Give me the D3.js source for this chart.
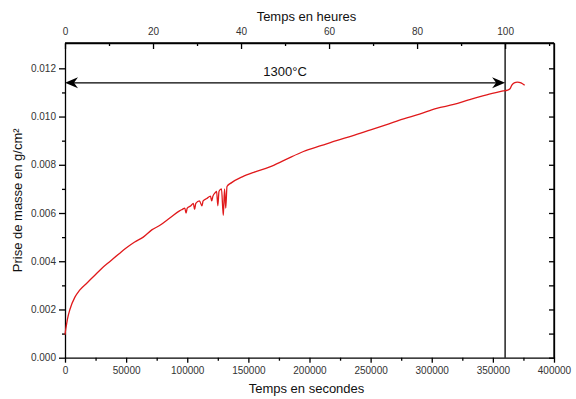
<!DOCTYPE html>
<html><head><meta charset="utf-8">
<script src="https://cdn.jsdelivr.net/npm/d3@7"></script>
<style>
body{margin:0;background:#fff;}
svg{display:block;font-family:"Liberation Sans",Arial,sans-serif;}
.axis text{font-size:10px;fill:#333;}
.axis path,.axis line{stroke:#000;stroke-width:1.3;}
</style></head>
<body><svg id="c" width="576" height="399"></svg>
<script>
// Data: time in seconds, mass gain in g/cm²
const seconds = [0,500,1000,2000,4000,8000,12000,18000,24000,30000,37000,44000,50000,57000,64000,71000,78000,86000,94000,
  96000,98000,99000,100000,103000,105000,106000,107000,110000,112000,113000,116000,119000,120000,121000,123000,124000,
  125000,126000,128000,129500,130500,131500,132500,136000,145000,155000,167000,180000,195000,210000,222000,235000,
  250000,265000,277000,290000,304000,318000,331000,345000,358500,362000,364000,365500,367500,370000,373000,376000];
const massGain = [0.00095,0.00115,0.0013,0.0016,0.0020,0.0025,0.0028,0.0031,0.0034,0.0037,0.0040,0.0043,0.00455,0.0048,0.0050,0.0053,0.0055,0.0058,0.0061,
  0.00615,0.0062,0.0060,0.0062,0.0063,0.0064,0.00615,0.0064,0.0065,0.0063,0.0065,0.0066,0.0067,0.0065,0.0067,0.00685,0.0069,
  0.0063,0.0069,0.0070,0.0059,0.0070,0.0062,0.0071,0.00725,0.0075,0.0077,0.0079,0.0082,0.00855,0.0088,0.0090,0.0092,
  0.00945,0.0097,0.0099,0.0101,0.01034,0.0105,0.0107,0.0109,0.01106,0.0111,0.01115,0.0113,0.0114,0.01143,0.0114,0.0113];
const xTicks = [0,50000,100000,150000,200000,250000,300000,350000,400000];
const xMinor = [25000,75000,125000,175000,225000,275000,325000,375000];
const hourTicks = [0,20,40,60,80,100];
const hourMinor = [10,30,50,70,90,110];
const yTicks = [0,0.002,0.004,0.006,0.008,0.010,0.012];
const yMinor = [0.001,0.003,0.005,0.007,0.009,0.011];
const plateauEnd = 360000;     // end of 1300°C plateau (s)
const arrowLevel = 0.0114;     // level of the double arrow
const plateauLabel = "1300°C";

const svg = d3.select("#c");
const m = {l:65, r:22, t:43, b:41.3};
const W = 576 - m.l - m.r, H = 399 - m.t - m.b;
const g = svg.append("g").attr("transform",`translate(${m.l},${m.t})`);

const x = d3.scaleLinear().domain([0,400000]).range([0,W]);
const xh = d3.scaleLinear().domain([0,400000/3600]).range([0,W]);
const y = d3.scaleLinear().domain([0,0.01305]).range([H,0]);

// Bottom axis
g.append("g").attr("class","axis").attr("transform",`translate(0,${H})`)
  .call(d3.axisBottom(x).tickValues(xTicks).tickFormat(d3.format("d")).tickSize(5).tickSizeOuter(0).tickPadding(4));
g.append("g").attr("class","axis").attr("transform",`translate(0,${H})`)
  .call(d3.axisBottom(x).tickValues(xMinor).tickFormat("").tickSize(3).tickSizeOuter(0))
  .select(".domain").remove();
// Top axis (hours), ticks inward
g.append("g").attr("class","axis")
  .call(d3.axisTop(xh).tickValues(hourTicks).tickSize(-6).tickSizeOuter(0).tickPadding(8));
g.append("g").attr("class","axis")
  .call(d3.axisTop(xh).tickValues(hourMinor).tickFormat("").tickSize(-3).tickSizeOuter(0))
  .select(".domain").remove();
// Left axis
g.append("g").attr("class","axis")
  .call(d3.axisLeft(y).tickValues(yTicks).tickFormat(d3.format(".3f")).tickSize(6).tickSizeOuter(0).tickPadding(3));
g.append("g").attr("class","axis")
  .call(d3.axisLeft(y).tickValues(yMinor).tickFormat("").tickSize(3).tickSizeOuter(0))
  .select(".domain").remove();
// Right axis, ticks inward, no labels
g.append("g").attr("class","axis").attr("transform",`translate(${W},0)`)
  .call(d3.axisLeft(y).tickValues(yTicks.concat(yMinor)).tickFormat("").tickSize(5).tickSizeOuter(0));
// close top/right domain lines
g.append("line").attr("x1",0).attr("x2",W).attr("y1",0).attr("y2",0).attr("stroke","#000").attr("stroke-width",1.3);
g.append("line").attr("x1",W).attr("x2",W).attr("y1",0).attr("y2",H).attr("stroke","#000").attr("stroke-width",1.3);

// Vertical line at end of plateau
g.append("line").attr("x1",x(plateauEnd)).attr("x2",x(plateauEnd)).attr("y1",0).attr("y2",H)
  .attr("stroke","#000").attr("stroke-width",1.3);

// Double arrow
const ay = y(arrowLevel), ax0 = x(0), ax1 = x(plateauEnd);
g.append("line").attr("x1",ax0+6).attr("x2",ax1-6).attr("y1",ay).attr("y2",ay).attr("stroke","#000").attr("stroke-width",1.3);
function head(tx, dir){
  const L=13, hw=5.5, n=4;
  const p = [[tx,ay],[tx+dir*L,ay-hw],[tx+dir*(L-n),ay],[tx+dir*L,ay+hw]];
  g.append("path").attr("d","M"+p.map(d=>d.join(",")).join("L")+"Z").attr("fill","#000");
}
head(ax0,1); head(ax1,-1);
g.append("text").attr("x",(ax0+ax1)/2).attr("y",ay-7).attr("text-anchor","middle")
  .attr("font-size",13).attr("fill","#111").text(plateauLabel);

// Curve
const pts = seconds.map((s,i)=>[s,massGain[i]]);
g.append("path").datum(pts)
  .attr("d",d3.line().curve(d3.curveMonotoneX).x(d=>x(d[0])).y(d=>y(d[1])))
  .attr("fill","none").attr("stroke","#e0191b").attr("stroke-width",1.3).attr("stroke-linejoin","round");

// Titles
svg.append("text").attr("x",m.l+W/2-3).attr("y",21).attr("text-anchor","middle")
  .attr("font-size",13).attr("fill","#111").text("Temps en heures");
svg.append("text").attr("x",m.l+W/2-3).attr("y",393).attr("text-anchor","middle")
  .attr("font-size",13).attr("fill","#111").text("Temps en secondes");
svg.append("text").attr("transform",`translate(22,${m.t+H/2}) rotate(-90)`).attr("text-anchor","middle")
  .attr("font-size",13).attr("fill","#111").text("Prise de masse en g/cm²");
</script></body></html>
